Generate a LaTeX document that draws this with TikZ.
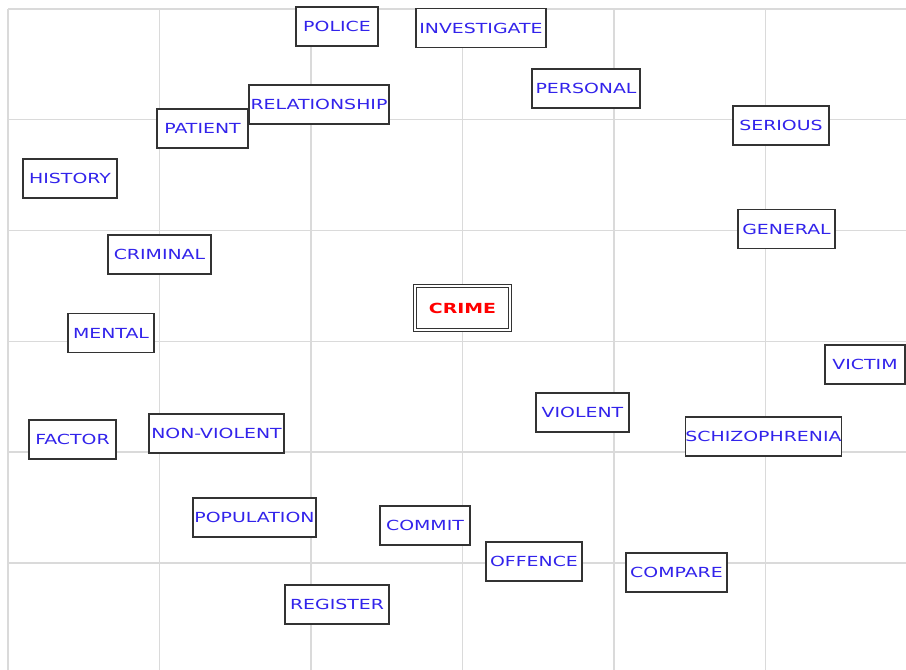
\documentclass[tikz,border=0pt]{standalone}
\usepackage{fontspec}
\usepackage{xcolor}
\usepackage{tikz}
\usetikzlibrary{positioning}
\newfontfamily\termfont[FakeStretch=1.36]{DejaVu Sans}
\definecolor{termblue}{RGB}{50,35,235}
\definecolor{gridgray}{RGB}{218,218,218}
\tikzset{term/.style = {rectangle, draw = black!80, line width = 1.3pt, fill = white, inner sep = 0,
  minimum height = 39, text = termblue, font = \termfont\fontsize{13.9}{16}\selectfont}}
\tikzset{hub/.style = {term, double, double distance = 1.6pt, line width = 1pt, text = red,
  font = \termfont\bfseries\fontsize{13.9}{16}\selectfont}}
\tikzset{gridline/.style = {gridgray, line width = 1.3pt}}

\begin{document}
\begin{tikzpicture}[x=1pt, y=-1pt]
\useasboundingbox (0, 0) rectangle (906, 670);
% grid
\foreach \gx in {8, 159.5, 311, 462.5, 614, 765.5} {\draw [gridline] (\gx, 9) -- (\gx, 670);}
\foreach \gy in {9, 119.5, 230.5, 341.5, 452, 563} {\draw [gridline] (8, \gy) -- (906, \gy);}
% terms
\node [term, minimum width = 82] (police) at (337, 26.5) {POLICE};
\node [term, minimum width = 130] (investigate) at (481, 28) {INVESTIGATE};
\node [term, minimum width = 140] (relationship) at (319, 104.5) {RELATIONSHIP};
\node [term, minimum width = 91] (patient) at (202.5, 128.5) {PATIENT};
\node [term, minimum width = 108] (personal) at (586, 88.5) {PERSONAL};
\node [term, minimum width = 96] (serious) at (781, 125.5) {SERIOUS};
\node [term, minimum width = 94] (history) at (70, 178.5) {HISTORY};
\node [term, minimum width = 97] (general) at (786.5, 229) {GENERAL};
\node [term, minimum width = 103] (criminal) at (159.5, 254.5) {CRIMINAL};
\node [hub, minimum width = 95.5, minimum height = 44.5] (crime) at (462.5, 308) {CRIME};
\node [term, minimum width = 86] (mental) at (111, 333) {MENTAL};
\node [term, minimum width = 80] (victim) at (865, 364.5) {VICTIM};
\node [term, minimum width = 93] (violent) at (582.5, 412.5) {VIOLENT};
\node [term, minimum width = 135] (nonviolent) at (216.5, 433.5) {NON-VIOLENT};
\node [term, minimum width = 87] (factor) at (72.5, 439.5) {FACTOR};
\node [term, minimum width = 155] (schizophrenia) at (763.5, 436.5) {SCHIZOPHRENIA};
\node [term, minimum width = 123] (population) at (254.5, 517.5) {POPULATION};
\node [term, minimum width = 90] (commit) at (425, 525.5) {COMMIT};
\node [term, minimum width = 96] (offence) at (534, 561.5) {OFFENCE};
\node [term, minimum width = 101] (compare) at (676.5, 572.5) {COMPARE};
\node [term, minimum width = 104] (register) at (337, 604.5) {REGISTER};
\end{tikzpicture}
\end{document}
